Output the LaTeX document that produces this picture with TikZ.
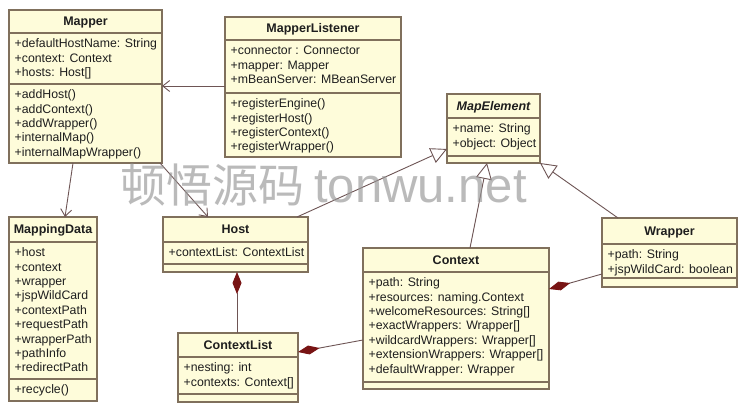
\documentclass[tikz,border=0pt]{standalone}
\usepackage{fontspec}
\setmainfont{Liberation Sans}
\newfontfamily\cjk{Noto Sans CJK SC}
\usetikzlibrary{arrows.meta,calc}
\definecolor{boxfill}{RGB}{254,252,218}
\definecolor{boxline}{RGB}{128,112,92}
\definecolor{conn}{RGB}{110,85,85}
\definecolor{dia}{RGB}{120,20,20}
\definecolor{txt}{RGB}{30,30,30}
\definecolor{wm}{RGB}{150,150,150}
\tikzset{
  classbox/.style={draw=boxline, fill=boxfill, line width=1.1pt, inner sep=0pt, outer sep=0pt, anchor=north west, rectangle},
  sepline/.style={draw=boxline, line width=1.1pt},
  ctitle/.style={anchor=base, inner sep=0pt, font=\fontsize{12.5}{14.4}\selectfont\bfseries, text=txt},
  ctext/.style={anchor=north west, inner sep=0pt, align=left, font=\fontsize{12.3}{14.4}\selectfont, text=txt},
  assoc/.style={draw=conn, line width=0.9pt, -{Straight Barb[length=7pt,width=11pt]}},
  gen/.style={draw=conn, line width=0.9pt, -{Triangle[open,length=16pt,width=16pt,fill=white]}},
  comp/.style={draw=conn, line width=0.9pt, {Diamond[length=22pt,width=9pt,fill=dia,color=dia]}-},
}
% name, x1, y1, x2, y2, header y, separator y, title, attributes
\newcommand\umlclass[9]{%
  \node[classbox, minimum width={(#4-#2)*1pt}, minimum height={(#5-#3)*1pt}] (#1) at (#2,#3) {};
  \draw[sepline] (#2,#6) -- (#4,#6);
  \draw[sepline] (#2,#7) -- (#4,#7);
  \node[ctitle] (#1-title) at ({(#2+#4)/2},{(#3+#6)/2+4.4}) {#8};
  \node[ctext] (#1-attr) at ({#2+5.5},{#6+4.5}) {\rule{0pt}{10pt}#9};
}
% name, x1, separator y, operations
\newcommand\umlops[4]{%
  \node[ctext] (#1-ops) at ({#2+5.5},{#3+4.5}) {\rule{0pt}{10pt}#4};
}
\begin{document}
\begin{tikzpicture}[x=1pt,y=-1pt]
\useasboundingbox (0,0) rectangle (746,417);
\fill[white] (0,0) rectangle (746,417);

\umlclass{mapper}{9}{10}{162}{163}{33}{84}{Mapper}{+defaultHostName: String\\+context: Context\\+hosts: Host[]}
\umlops{mapper}{9}{84}{+addHost()\\+addContext()\\+addWrapper()\\+internalMap()\\+internalMapWrapper()}

\umlclass{listener}{225}{17}{401}{157}{40}{93}{MapperListener}{+connector : Connector\\+mapper: Mapper\\+mBeanServer: MBeanServer}
\umlops{listener}{225}{93}{+registerEngine()\\+registerHost()\\+registerContext()\\+registerWrapper()}

\umlclass{mapel}{447}{94}{540}{163}{118}{156}{\itshape MapElement}{+name: String\\+object: Object}

\umlclass{mdata}{9}{217}{97}{401}{242}{379}{MappingData}{+host\\+context\\+wrapper\\+jspWildCard\\+contextPath\\+requestPath\\+wrapperPath\\+pathInfo\\+redirectPath}
\umlops{mdata}{9}{379}{+recycle()}

\umlclass{host}{163}{217}{308}{272}{242}{264}{Host}{+contextList: ContextList}

\umlclass{clist}{178}{333}{298}{402}{357}{394}{ContextList}{+nesting: int\\+contexts: Context[]}

\umlclass{context}{363}{248}{549}{389}{272}{382}{Context}{+path: String\\+resources: naming.Context\\+welcomeResources: String[]\\+exactWrappers: Wrapper[]\\+wildcardWrappers: Wrapper[]\\+extensionWrappers: Wrapper[]\\+defaultWrapper: Wrapper}

\umlclass{wrapper}{602}{218}{737}{287}{244}{278}{Wrapper}{+path: String\\+jspWildCard: boolean}

% associations
\draw[assoc] ($(listener.north west)+(0,69)$) -- ($(mapper.north east)+(0,76)$);
\draw[assoc] ($(mapper.south west)+(64,0)$) -- ($(mdata.north west)+(56,0)$);
\draw[assoc] ($(mapper.south east)+(-2,0)$) -- ($(host.north west)+(45,0)$);
% generalizations
\draw[gen] ($(host.north west)+(134,0)$) -- ($(mapel.north west)+(0,55)$);
\draw[gen] ($(context.north west)+(107,0)$) -- ($(mapel.south west)+(40,0)$);
\draw[gen] ($(wrapper.north west)+(16,0)$) -- (mapel.south east);
% compositions
\draw[comp] ($(host.south west)+(74,0)$) -- ($(clist.north west)+(59,0)$);
\draw[comp] ($(clist.north east)+(0,19)$) -- ($(context.north west)+(0,92)$);
\draw[comp] ($(context.north east)+(0,41)$) -- ($(wrapper.north west)+(0,56)$);

% watermark
\node[anchor=base west, inner sep=0pt, text=wm, opacity=0.65] (wmark) at (120,202)
  {{\cjk\fontsize{46}{46}\selectfont 顿悟源码}\hspace{10pt}{\fontsize{49}{49}\selectfont tonwu.net}};
\end{tikzpicture}
\end{document}
